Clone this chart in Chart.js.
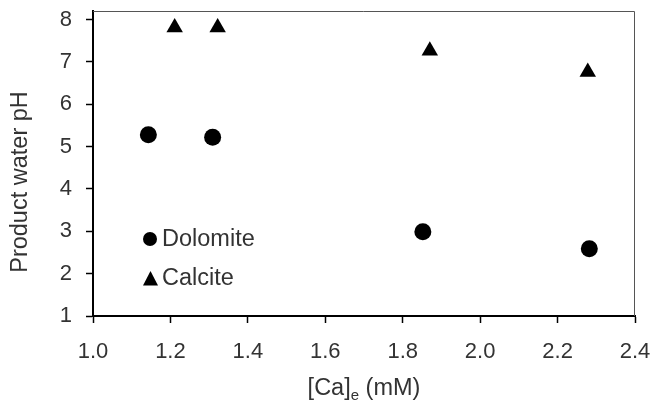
<!DOCTYPE html>
<html>
<head>
<meta charset="utf-8">
<script src="https://cdn.jsdelivr.net/npm/chart.js@4.4.1/dist/chart.umd.min.js"></script>
<style>
  body { margin: 0; background: #fff; }
  #wrap { width: 652px; height: 400px; }
</style>
</head>
<body>
<div id="wrap"><canvas id="grafico" width="652" height="400"></canvas></div>
<script>
const xTicks = [1.0, 1.2, 1.4, 1.6, 1.8, 2.0, 2.2, 2.4];
const yTicks = [1, 2, 3, 4, 5, 6, 7, 8];
const seriesNames = ["Dolomite", "Calcite"];
const yTitle = "Product water pH";
const dolomiteCa = [1.143, 1.309, 1.852, 2.282];
const dolomitePH = [5.28, 5.22, 2.99, 2.59];
const calciteCa = [1.211, 1.322, 1.870, 2.278];
const calcitePH = [7.81, 7.81, 7.26, 6.76];

const fontFam = "'Liberation Sans', Arial, sans-serif";
const textCol = "#333";

function pts(xs, ys) {
    return xs.map((x, i) => ({ x: x, y: ys[i] }));
}

// frame on top/right, legend and axis titles (x title has a subscript)
const extras = {
    id: "extras",
    afterDraw(chart) {
        const ctx = chart.ctx;
        const a = chart.chartArea;
        ctx.save();
        ctx.strokeStyle = "#555";
        ctx.lineWidth = 1;
        ctx.beginPath();
        ctx.moveTo(a.left, a.top + 0.5);
        ctx.lineTo(a.right - 0.5, a.top + 0.5);
        ctx.lineTo(a.right - 0.5, a.bottom);
        ctx.stroke();

        // legend
        ctx.fillStyle = "#000";
        ctx.beginPath();
        ctx.arc(150, 239, 7, 0, Math.PI * 2);
        ctx.fill();
        ctx.beginPath();
        ctx.moveTo(150.5, 271);
        ctx.lineTo(158, 285.5);
        ctx.lineTo(143, 285.5);
        ctx.closePath();
        ctx.fill();
        ctx.fillStyle = textCol;
        ctx.font = "23.5px " + fontFam;
        ctx.textBaseline = "middle";
        ctx.textAlign = "left";
        ctx.fillText(seriesNames[0], 162, 240);
        ctx.fillText(seriesNames[1], 162, 279);

        // y axis title
        ctx.save();
        ctx.translate(21, 182);
        ctx.rotate(-Math.PI / 2);
        ctx.textAlign = "center";
        ctx.fillText(yTitle, 0, 0);
        ctx.restore();

        // x axis title: [Ca]e (mM)
        const mid = (a.left + a.right) / 2;
        const p1 = "[Ca]", sub = "e", p2 = " (mM)";
        ctx.font = "23.5px " + fontFam;
        const w1 = ctx.measureText(p1).width;
        const w3 = ctx.measureText(p2).width;
        ctx.font = "15px " + fontFam;
        const w2 = ctx.measureText(sub).width;
        let x = mid - (w1 + w2 + w3) / 2;
        ctx.textBaseline = "alphabetic";
        ctx.font = "23.5px " + fontFam;
        ctx.fillText(p1, x, 395);
        x += w1;
        ctx.font = "15px " + fontFam;
        ctx.fillText(sub, x, 400);
        x += w2;
        ctx.font = "23.5px " + fontFam;
        ctx.fillText(p2, x, 395);
        ctx.restore();
    }
};

new Chart(document.getElementById("grafico"), {
    type: "scatter",
    data: {
        datasets: [{
            label: seriesNames[0],
            data: pts(dolomiteCa, dolomitePH),
            pointStyle: "circle",
            pointRadius: 8.5,
            pointHoverRadius: 8.5,
            backgroundColor: "#000",
            borderColor: "#000",
            borderWidth: 0
        }, {
            label: seriesNames[1],
            data: pts(calciteCa, calcitePH),
            pointStyle: "triangle",
            pointRadius: 9.5,
            pointHoverRadius: 9.5,
            backgroundColor: "#000",
            borderColor: "#000",
            borderWidth: 0
        }]
    },
    options: {
        responsive: false,
        animation: false,
        layout: { padding: 0 },
        plugins: {
            legend: { display: false },
            tooltip: { enabled: false }
        },
        scales: {
            x: {
                type: "linear",
                min: 1.0,
                max: 2.4,
                afterBuildTicks: s => { s.ticks = xTicks.map(v => ({ value: v })); },
                afterFit: s => { s.height = 84; s.paddingLeft = 0; s.paddingRight = 17; },
                grid: { drawOnChartArea: false, tickLength: 7, tickWidth: 1.5, tickColor: "#000" },
                border: { color: "#000", width: 2 },
                ticks: {
                    padding: 16,
                    color: textCol,
                    font: { family: fontFam, size: 22 },
                    callback: v => Number(v).toFixed(1)
                }
            },
            y: {
                type: "linear",
                min: 1,
                max: 8.2,
                afterBuildTicks: s => { s.ticks = yTicks.map(v => ({ value: v })); },
                afterFit: s => { s.width = 93; s.paddingTop = 11; s.paddingBottom = 0; },
                grid: { drawOnChartArea: false, tickLength: 7, tickWidth: 1.5, tickColor: "#000" },
                border: { color: "#000", width: 2 },
                ticks: {
                    padding: 14,
                    color: textCol,
                    font: { family: fontFam, size: 22 }
                }
            }
        }
    },
    plugins: [extras]
});
</script>
</body>
</html>
